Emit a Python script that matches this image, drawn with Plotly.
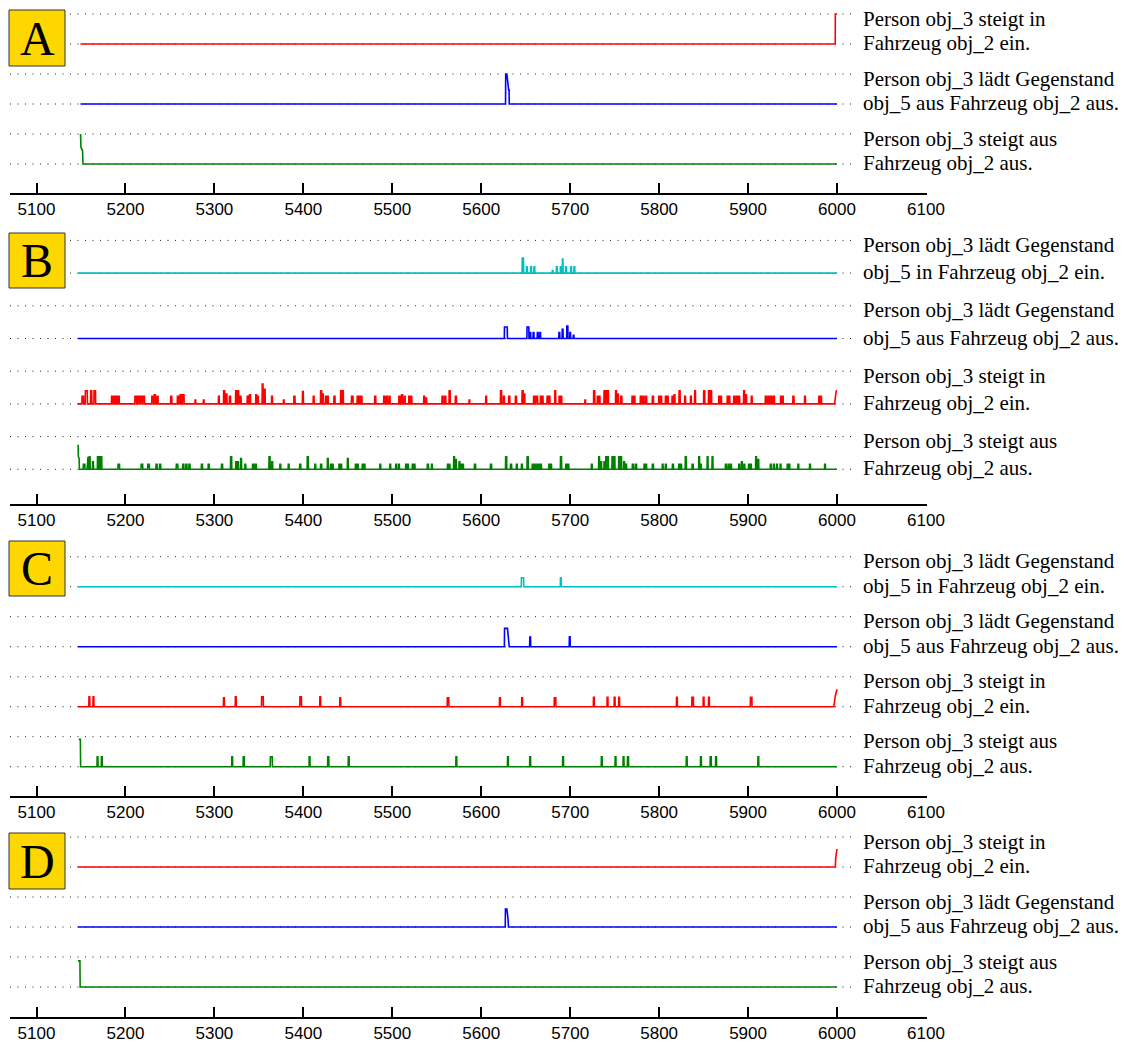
import plotly.graph_objects as go

W, H = 1125, 1042

# ---------------- data ----------------
tick_values = [5100, 5200, 5300, 5400, 5500, 5600, 5700, 5800, 5900, 6000, 6100]
tick_labels = [str(v) for v in tick_values]

panel_letters = ["A", "B", "C", "D"]

row_labels = {
    "steigt_in": ["Person obj_3 steigt in", "Fahrzeug obj_2 ein."],
    "laedt_aus": ["Person obj_3 lädt Gegenstand", "obj_5 aus Fahrzeug obj_2 aus."],
    "laedt_ein": ["Person obj_3 lädt Gegenstand", "obj_5 in Fahrzeug obj_2 ein."],
    "steigt_aus": ["Person obj_3 steigt aus", "Fahrzeug obj_2 aus."],
}
row_colors = {
    "steigt_in": "#ff0000",
    "laedt_aus": "#0000ff",
    "laedt_ein": "#00c0c0",
    "steigt_aus": "#008000",
}

panel_A_rows = ["steigt_in", "laedt_aus", "steigt_aus"]
panel_B_rows = ["laedt_ein", "laedt_aus", "steigt_in", "steigt_aus"]
panel_C_rows = ["laedt_ein", "laedt_aus", "steigt_in", "steigt_aus"]
panel_D_rows = ["steigt_in", "laedt_aus", "steigt_aus"]

# ---- Panel A ----
A_steigt_in_start = [(5149.4, 0.0)]
A_steigt_in_features = []
A_steigt_in_spikes = []
A_steigt_in_end = [(5998.0, 0.0), (5998.1, 1.0), (6000.0, 1.0)]

A_laedt_aus_start = [(5149.4, 0.0)]
A_laedt_aus_features = [[(5627.3, 0.0), (5627.5, 1.0), (5628.8, 1.0), (5630.8, 0.47), (5631.3, 0.47), (5631.5, 0.0)]]
A_laedt_aus_spikes = []
A_laedt_aus_end = [(6000.0, 0.0)]

A_steigt_aus_start = [(5149.5, 1.0), (5150.0, 0.55), (5151.8, 0.45), (5152.2, 0.0)]
A_steigt_aus_features = []
A_steigt_aus_spikes = []
A_steigt_aus_end = [(6000.0, 0.0)]

# ---- Panel B ----
B_laedt_ein_start = [(5146.5, 0.0)]
B_laedt_ein_features = []
B_laedt_ein_spikes = [
    (5646.8, 0.46, 1.8), (5651.3, 0.19, 1.2), (5656.0, 0.19, 1.2), (5659.7, 0.19, 1.2),
    (5680.3, 0.08, 1.2), (5685.0, 0.19, 1.2), (5689.3, 0.19, 1.0), (5691.6, 0.43, 0.9),
    (5695.3, 0.19, 1.2), (5701.0, 0.19, 1.2), (5704.7, 0.19, 1.2),
]
B_laedt_ein_end = [(6000.0, 0.0)]

B_laedt_aus_start = [(5146.5, 0.0)]
B_laedt_aus_features = []
B_laedt_aus_spikes = [
    (5627.7, 0.35, 3.5), (5652.5, 0.35, 2.4), (5655.1, 0.18, 1.2), (5658.8, 0.18, 1.2),
    (5663.5, 0.18, 1.2), (5666.3, 0.18, 1.0), (5687.8, 0.18, 1.2), (5691.5, 0.28, 1.2),
    (5696.8, 0.38, 1.5), (5700.0, 0.18, 1.0), (5703.8, 0.10, 1.0),
]
B_laedt_aus_end = [(6000.0, 0.0)]

B_steigt_in_start = [(5146.0, 0.0)]
B_steigt_in_features = []
B_steigt_in_spikes = [
    (5152.0, 0.23, 2.0), (5156.0, 0.40, 2.5), (5161.5, 0.40, 1.5), (5165.5, 0.40, 2.0),
    (5185.0, 0.23, 1.5), (5188.0, 0.23, 1.5), (5190.0, 0.23, 1.2), (5192.5, 0.23, 1.2),
    (5211.5, 0.23, 2.0), (5214.5, 0.23, 2.0), (5217.5, 0.23, 2.0), (5220.5, 0.23, 2.0),
    (5230.5, 0.23, 2.0), (5233.0, 0.28, 1.5), (5236.0, 0.23, 1.5), (5251.5, 0.23, 1.5),
    (5259.0, 0.23, 1.5), (5262.0, 0.28, 1.5), (5265.0, 0.28, 2.0), (5278.6, 0.12, 1.0),
    (5288.0, 0.12, 1.0), (5305.0, 0.23, 1.2), (5311.0, 0.40, 1.5), (5313.5, 0.30, 1.5),
    (5317.5, 0.23, 1.5), (5324.5, 0.40, 1.5), (5326.8, 0.40, 1.2), (5329.5, 0.23, 1.2),
    (5337.5, 0.23, 1.5), (5340.0, 0.28, 1.5), (5347.0, 0.28, 1.2), (5349.0, 0.23, 1.0),
    (5354.2, 0.61, 1.2), (5356.7, 0.45, 1.0), (5364.8, 0.23, 1.2), (5378.0, 0.12, 1.0),
    (5390.0, 0.23, 1.5), (5399.5, 0.38, 1.2), (5411.6, 0.23, 1.2), (5420.0, 0.40, 1.5),
    (5422.0, 0.30, 1.2), (5425.5, 0.23, 1.2), (5427.5, 0.23, 1.2), (5435.0, 0.23, 1.5),
    (5442.5, 0.40, 1.5), (5444.5, 0.40, 1.2), (5455.0, 0.23, 2.0), (5461.0, 0.23, 1.2),
    (5463.5, 0.23, 1.2), (5465.5, 0.23, 1.0), (5480.8, 0.23, 1.5), (5491.0, 0.23, 1.5),
    (5494.0, 0.23, 1.5), (5497.0, 0.23, 1.2), (5508.0, 0.23, 1.5), (5511.0, 0.28, 1.5),
    (5514.0, 0.23, 1.2), (5519.0, 0.23, 1.2), (5521.5, 0.23, 1.0), (5535.8, 0.23, 1.2),
    (5538.2, 0.18, 1.0), (5556.5, 0.23, 1.5), (5559.5, 0.23, 1.5), (5564.5, 0.40, 1.5),
    (5571.5, 0.23, 1.5), (5586.7, 0.12, 1.0), (5605.5, 0.23, 1.2), (5622.3, 0.40, 1.5),
    (5625.5, 0.23, 1.2), (5631.5, 0.23, 1.5), (5639.0, 0.23, 1.5), (5646.5, 0.40, 1.5),
    (5648.5, 0.30, 1.2), (5659.5, 0.23, 1.5), (5662.5, 0.23, 2.0), (5667.0, 0.23, 1.2),
    (5669.0, 0.23, 1.2), (5674.5, 0.23, 1.2), (5676.7, 0.23, 1.2), (5683.2, 0.40, 1.2),
    (5688.0, 0.23, 1.2), (5690.0, 0.23, 1.2), (5716.9, 0.12, 1.0), (5727.0, 0.40, 1.5),
    (5731.0, 0.23, 1.2), (5733.0, 0.23, 1.2), (5738.5, 0.40, 1.2), (5740.5, 0.40, 1.2),
    (5742.5, 0.40, 1.2), (5751.5, 0.40, 1.2), (5753.8, 0.30, 1.2), (5757.5, 0.23, 1.5),
    (5770.0, 0.23, 1.2), (5772.3, 0.23, 1.2), (5779.5, 0.23, 1.5), (5782.5, 0.23, 1.5),
    (5785.5, 0.23, 1.2), (5793.0, 0.23, 1.5), (5800.0, 0.23, 1.2), (5802.3, 0.23, 1.2),
    (5807.5, 0.23, 1.2), (5809.8, 0.23, 1.0), (5815.0, 0.23, 1.2), (5817.3, 0.28, 1.2),
    (5823.0, 0.40, 1.5), (5829.2, 0.23, 1.2), (5835.7, 0.23, 1.2), (5840.4, 0.40, 1.2),
    (5850.7, 0.40, 1.5), (5856.0, 0.40, 1.2), (5858.5, 0.40, 1.2), (5867.5, 0.23, 1.2),
    (5869.7, 0.23, 1.0), (5877.0, 0.23, 1.2), (5879.0, 0.23, 1.2), (5884.5, 0.23, 1.5),
    (5887.5, 0.23, 1.5), (5890.0, 0.23, 1.2), (5895.5, 0.40, 1.2), (5897.8, 0.28, 1.2),
    (5904.1, 0.23, 1.2), (5920.0, 0.23, 1.5), (5923.0, 0.23, 1.5), (5926.0, 0.23, 1.5),
    (5929.0, 0.23, 1.5), (5937.0, 0.23, 1.2), (5939.0, 0.23, 1.2), (5951.0, 0.23, 1.5),
    (5964.0, 0.23, 1.2), (5980.0, 0.23, 1.2), (5982.0, 0.23, 1.2),
]
B_steigt_in_end = [(5997.3, 0.0), (5998.6, 0.30), (5999.3, 0.42)]

B_steigt_aus_start = [(5146.8, 0.75), (5147.0, 0.40), (5147.9, 0.33), (5148.2, 0.0)]
B_steigt_aus_features = []
B_steigt_aus_spikes = [
    (5153.5, 0.15, 2.0), (5157.5, 0.38, 1.2), (5159.8, 0.38, 1.2), (5163.5, 0.23, 1.2),
    (5169.0, 0.38, 1.2), (5171.0, 0.38, 1.2), (5173.0, 0.38, 1.0), (5192.5, 0.15, 2.0),
    (5218.5, 0.15, 2.0), (5226.0, 0.15, 2.0), (5235.0, 0.15, 1.5), (5239.0, 0.15, 1.5),
    (5258.0, 0.15, 2.0), (5265.0, 0.15, 1.5), (5268.5, 0.15, 1.5), (5272.0, 0.15, 1.5),
    (5286.0, 0.15, 1.5), (5293.6, 0.15, 1.5), (5308.6, 0.15, 1.5), (5318.8, 0.38, 1.5),
    (5324.5, 0.23, 1.2), (5326.5, 0.23, 1.2), (5330.0, 0.33, 1.2), (5334.8, 0.15, 1.2),
    (5343.5, 0.15, 1.5), (5346.5, 0.15, 1.5), (5362.0, 0.38, 1.5), (5365.0, 0.23, 1.2),
    (5374.1, 0.15, 1.2), (5383.5, 0.15, 1.2), (5396.5, 0.15, 1.5), (5405.0, 0.38, 1.5),
    (5413.4, 0.15, 1.2), (5420.0, 0.15, 1.5), (5427.5, 0.33, 1.2), (5431.0, 0.15, 1.2),
    (5433.0, 0.15, 1.2), (5440.5, 0.15, 1.2), (5442.5, 0.15, 1.2), (5450.0, 0.33, 1.2),
    (5459.0, 0.15, 1.2), (5461.3, 0.15, 1.2), (5466.7, 0.15, 1.2), (5468.8, 0.15, 1.2),
    (5486.5, 0.15, 1.2), (5497.7, 0.15, 1.2), (5504.3, 0.15, 1.2), (5507.5, 0.15, 1.2),
    (5515.5, 0.15, 1.2), (5517.5, 0.15, 1.2), (5523.0, 0.15, 1.2), (5525.0, 0.15, 1.2),
    (5540.0, 0.15, 1.5), (5544.5, 0.15, 1.2), (5562.5, 0.15, 1.2), (5564.3, 0.15, 1.2),
    (5569.5, 0.38, 1.2), (5571.5, 0.30, 1.2), (5575.5, 0.23, 1.2), (5577.5, 0.15, 1.0),
    (5579.6, 0.15, 1.0), (5593.0, 0.15, 1.5), (5611.0, 0.15, 1.5), (5628.0, 0.38, 1.5),
    (5633.5, 0.15, 1.5), (5640.0, 0.15, 1.2), (5645.7, 0.15, 1.2), (5652.2, 0.38, 1.5),
    (5658.0, 0.15, 1.5), (5661.0, 0.15, 1.5), (5664.0, 0.15, 1.5), (5667.0, 0.15, 1.5),
    (5676.5, 0.15, 1.2), (5678.5, 0.15, 1.2), (5689.7, 0.38, 1.5), (5695.5, 0.15, 1.2),
    (5698.0, 0.15, 1.2), (5724.3, 0.15, 1.2), (5732.5, 0.38, 1.2), (5734.8, 0.23, 1.2),
    (5738.5, 0.23, 1.2), (5740.5, 0.38, 1.2), (5742.5, 0.38, 1.0), (5747.5, 0.38, 1.2),
    (5749.8, 0.38, 1.2), (5755.0, 0.38, 1.2), (5757.3, 0.38, 1.2), (5760.7, 0.23, 1.2),
    (5763.0, 0.15, 1.0), (5770.5, 0.15, 1.5), (5774.0, 0.15, 1.5), (5783.5, 0.15, 1.2),
    (5785.5, 0.15, 1.0), (5793.0, 0.15, 1.5), (5804.0, 0.15, 1.2), (5807.5, 0.15, 1.2),
    (5815.5, 0.15, 1.5), (5822.5, 0.15, 1.2), (5824.7, 0.15, 1.2), (5830.0, 0.38, 1.5),
    (5837.7, 0.15, 1.5), (5845.0, 0.38, 1.2), (5847.0, 0.15, 1.0), (5854.5, 0.38, 1.2),
    (5860.0, 0.38, 1.2), (5875.0, 0.15, 1.2), (5878.0, 0.15, 1.2), (5880.8, 0.15, 1.2),
    (5890.0, 0.15, 1.2), (5893.0, 0.23, 1.2), (5895.8, 0.15, 1.2), (5901.0, 0.15, 1.2),
    (5903.2, 0.15, 1.2), (5909.0, 0.38, 1.2), (5911.5, 0.30, 1.2), (5925.5, 0.15, 1.2),
    (5929.0, 0.15, 1.2), (5932.5, 0.15, 1.2), (5936.5, 0.15, 1.2), (5944.5, 0.15, 1.2),
    (5946.5, 0.15, 1.0), (5956.5, 0.15, 1.2), (5969.6, 0.15, 1.2), (5986.5, 0.15, 1.2),
]
B_steigt_aus_end = [(6000.0, 0.0)]

# ---- Panel C ----
C_laedt_ein_start = [(5146.5, 0.0)]
C_laedt_ein_features = []
C_laedt_ein_spikes = [(5646.4, 0.30, 2.8), (5689.5, 0.30, 1.2)]
C_laedt_ein_end = [(6000.0, 0.0)]

C_laedt_aus_start = [(5146.5, 0.0)]
C_laedt_aus_features = [[(5626.0, 0.0), (5626.2, 0.61), (5629.5, 0.61), (5631.5, 0.0)]]
C_laedt_aus_spikes = [(5655.0, 0.32, 1.2), (5699.5, 0.33, 1.2)]
C_laedt_aus_end = [(6000.0, 0.0)]

C_steigt_in_start = [(5146.5, 0.0)]
C_steigt_in_features = []
C_steigt_in_spikes = [
    (5159.4, 0.33, 1.2), (5164.0, 0.33, 1.2), (5310.7, 0.30, 1.2), (5324.0, 0.33, 1.2),
    (5354.0, 0.33, 2.2), (5397.0, 0.33, 2.0), (5419.0, 0.33, 1.2), (5441.5, 0.30, 1.2),
    (5562.7, 0.30, 2.0), (5621.0, 0.30, 1.2), (5646.0, 0.30, 1.2), (5683.0, 0.30, 2.0),
    (5726.6, 0.31, 1.2), (5742.0, 0.31, 1.2), (5750.0, 0.31, 1.2), (5755.0, 0.31, 1.2),
    (5820.0, 0.31, 1.2), (5837.7, 0.31, 2.0), (5850.0, 0.31, 1.2), (5856.0, 0.31, 1.2),
    (5903.5, 0.31, 2.0),
]
C_steigt_in_end = [(5996.5, 0.0), (5998.0, 0.35), (6000.0, 0.58)]

C_steigt_aus_start = [(5147.5, 0.91), (5149.3, 0.91), (5149.6, 0.0)]
C_steigt_aus_features = []
C_steigt_aus_spikes = [
    (5168.6, 0.33, 1.2), (5173.4, 0.33, 1.2), (5320.0, 0.33, 1.2), (5333.0, 0.33, 1.5),
    (5364.0, 0.33, 2.5), (5407.0, 0.33, 1.2), (5428.0, 0.33, 1.5), (5451.0, 0.33, 1.2),
    (5572.0, 0.33, 1.2), (5630.0, 0.33, 1.2), (5655.0, 0.33, 1.2), (5692.0, 0.33, 1.2),
    (5735.5, 0.33, 1.2), (5751.0, 0.33, 1.2), (5760.0, 0.33, 1.2), (5765.0, 0.33, 1.5),
    (5831.0, 0.33, 1.2), (5847.0, 0.33, 1.2), (5858.0, 0.33, 1.5), (5864.0, 0.33, 1.2),
    (5911.5, 0.33, 1.2),
]
C_steigt_aus_end = [(6000.0, 0.0)]

# ---- Panel D ----
D_steigt_in_start = [(5146.5, 0.0)]
D_steigt_in_features = []
D_steigt_in_spikes = []
D_steigt_in_end = [(5998.2, 0.0), (5998.4, 0.27), (6000.0, 0.60)]

D_laedt_aus_start = [(5146.5, 0.0)]
D_laedt_aus_features = [[(5627.0, 0.0), (5627.2, 0.60), (5628.8, 0.60), (5630.2, 0.25), (5630.6, 0.0)]]
D_laedt_aus_spikes = []
D_laedt_aus_end = [(6000.0, 0.0)]

D_steigt_aus_start = [(5146.5, 0.87), (5148.8, 0.87), (5149.1, 0.0)]
D_steigt_aus_features = []
D_steigt_aus_spikes = []
D_steigt_aus_end = [(6000.0, 0.0)]

# ---------------- layout constants (pixels) ----------------
X_RANGE = [5070.2, 6100.6]
X_DOMAIN_PX = [10, 926.5]
DOT_X = [5070.2, 6018.0]
LABEL_X = 6027.0

panel_axis_px = [193.0, 504.0, 796.0, 1016.7]
panel_unit_px = [30.0, 32.7, 30.0, 30.0]
panel_gap_px = [29.0, 34.7, 29.3, 29.7]
panel_box_px = [(9, 10, 65, 66), (9, 233, 65, 288), (9, 541, 65, 596), (9, 833, 65, 889)]

panel_rows = [panel_A_rows, panel_B_rows, panel_C_rows, panel_D_rows]

signals = {
    (0, "steigt_in"): (A_steigt_in_start, A_steigt_in_features, A_steigt_in_spikes, A_steigt_in_end),
    (0, "laedt_aus"): (A_laedt_aus_start, A_laedt_aus_features, A_laedt_aus_spikes, A_laedt_aus_end),
    (0, "steigt_aus"): (A_steigt_aus_start, A_steigt_aus_features, A_steigt_aus_spikes, A_steigt_aus_end),
    (1, "laedt_ein"): (B_laedt_ein_start, B_laedt_ein_features, B_laedt_ein_spikes, B_laedt_ein_end),
    (1, "laedt_aus"): (B_laedt_aus_start, B_laedt_aus_features, B_laedt_aus_spikes, B_laedt_aus_end),
    (1, "steigt_in"): (B_steigt_in_start, B_steigt_in_features, B_steigt_in_spikes, B_steigt_in_end),
    (1, "steigt_aus"): (B_steigt_aus_start, B_steigt_aus_features, B_steigt_aus_spikes, B_steigt_aus_end),
    (2, "laedt_ein"): (C_laedt_ein_start, C_laedt_ein_features, C_laedt_ein_spikes, C_laedt_ein_end),
    (2, "laedt_aus"): (C_laedt_aus_start, C_laedt_aus_features, C_laedt_aus_spikes, C_laedt_aus_end),
    (2, "steigt_in"): (C_steigt_in_start, C_steigt_in_features, C_steigt_in_spikes, C_steigt_in_end),
    (2, "steigt_aus"): (C_steigt_aus_start, C_steigt_aus_features, C_steigt_aus_spikes, C_steigt_aus_end),
    (3, "steigt_in"): (D_steigt_in_start, D_steigt_in_features, D_steigt_in_spikes, D_steigt_in_end),
    (3, "laedt_aus"): (D_laedt_aus_start, D_laedt_aus_features, D_laedt_aus_spikes, D_laedt_aus_end),
    (3, "steigt_aus"): (D_steigt_aus_start, D_steigt_aus_features, D_steigt_aus_spikes, D_steigt_aus_end),
}


def build_signal(start, features, spikes, end):
    segs = []
    for c, h, w in spikes:
        r = min(0.2, w / 5.0)
        segs.append([(c - w / 2, 0.0), (c - w / 2 + r, h), (c + w / 2 - r, h), (c + w / 2, 0.0)])
    for f in features:
        segs.append(list(f))
    segs.sort(key=lambda s: s[0][0])
    pts = list(start)
    for s in segs:
        pts += s
    pts += list(end)
    xs = [p[0] for p in pts]
    ys = [p[1] for p in pts]
    return xs, ys


LABEL_FONT = dict(family="Liberation Serif, Times New Roman, serif", size=21, color="black")

fig = go.Figure()
annotations = []
shapes = []
layout_axes = {}

for p, rows in enumerate(panel_rows):
    n = len(rows)
    unit = panel_unit_px[p]
    axis_px = panel_axis_px[p]
    y_lo = -panel_gap_px[p] / unit
    y_hi = 2 * (n - 1) + 1.4
    top_px = axis_px - (y_hi - y_lo) * unit
    dom = [1 - axis_px / H, min(1.0, 1 - top_px / H)]
    xa = "x" if p == 0 else f"x{p + 1}"
    ya = "y" if p == 0 else f"y{p + 1}"
    xkey = "xaxis" if p == 0 else f"xaxis{p + 1}"
    ykey = "yaxis" if p == 0 else f"yaxis{p + 1}"
    layout_axes[xkey] = dict(
        domain=[X_DOMAIN_PX[0] / W, X_DOMAIN_PX[1] / W], range=X_RANGE, autorange=False,
        anchor=ya, automargin=False,
        tickmode="array", tickvals=tick_values, ticktext=tick_labels,
        ticks="inside", ticklen=10, tickwidth=1.5, tickcolor="black",
        showline=True, linecolor="black", linewidth=2, showgrid=False, zeroline=False,
        tickfont=dict(family="Liberation Sans, Arial, sans-serif", size=17, color="black"),
        fixedrange=True,
    )
    layout_axes[ykey] = dict(domain=dom, range=[y_lo, y_hi], autorange=False, anchor=xa,
                             visible=False, automargin=False,
                             showgrid=False, zeroline=False, fixedrange=True)

    for k, key in enumerate(rows):
        base = 2 * (n - 1 - k)
        # dotted guide lines (baseline and top)
        for lvl in (base, base + 1):
            fig.add_trace(go.Scatter(
                x=DOT_X, y=[lvl, lvl], mode="lines", xaxis=xa, yaxis=ya,
                line=dict(color="#222222", width=1, dash="1px,6.5px"),
                hoverinfo="skip", showlegend=False))
        start, feats, spikes, end = signals[(p, key)]
        xs, ys = build_signal(start, feats, spikes, end)
        fig.add_trace(go.Scatter(
            x=xs, y=[base + v for v in ys], mode="lines", xaxis=xa, yaxis=ya,
            line=dict(color=row_colors[key], width=1.6),
            showlegend=False, hoverinfo="skip"))
        line1, line2 = row_labels[key]
        annotations.append(dict(
            x=LABEL_X, y=base + 1, xref=xa, yref=ya, xanchor="left", yanchor="middle",
            text=line1, showarrow=False, align="left", yshift=-4.5, font=LABEL_FONT))
        annotations.append(dict(
            x=LABEL_X, y=base, xref=xa, yref=ya, xanchor="left", yanchor="middle",
            text=line2, showarrow=False, align="left", yshift=1.0, font=LABEL_FONT))

    bx0, by0, bx1, by1 = panel_box_px[p]
    shapes.append(dict(type="rect", xref="paper", yref="paper", layer="above",
                       x0=bx0 / W, x1=bx1 / W, y0=1 - by1 / H, y1=1 - by0 / H,
                       fillcolor="#FFD700", line=dict(color="#333333", width=1)))
    annotations.append(dict(
        x=(bx0 + bx1) / 2 / W, y=1 - (by0 + by1) / 2 / H, xref="paper", yref="paper",
        xanchor="center", yanchor="middle", text=panel_letters[p], showarrow=False,
        font=dict(family="Liberation Serif, Times New Roman, serif", size=48, color="black")))

fig.update_layout(
    width=W, height=H, autosize=False,
    margin=dict(l=0, r=0, t=0, b=0, pad=0, autoexpand=False),
    paper_bgcolor="white", plot_bgcolor="white", showlegend=False,
    annotations=annotations, shapes=shapes, **layout_axes)

POST = (
    "document.body.style.margin='0px';"
    "document.body.style.overflow='hidden';"
)

fig.write_html("out.html", config={"displayModeBar": False, "responsive": False},
               post_script=POST)
